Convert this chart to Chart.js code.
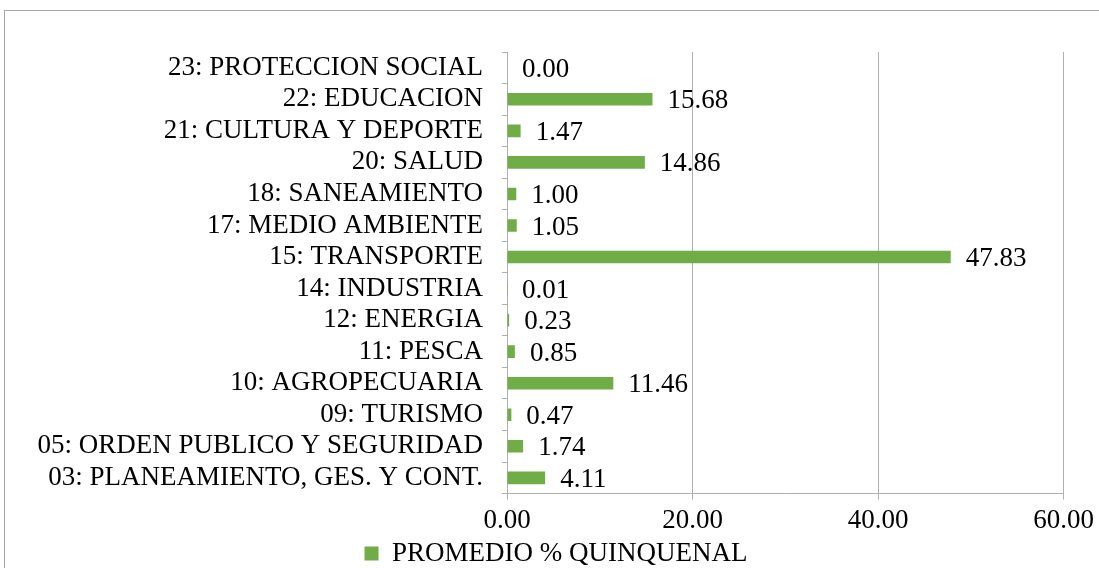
<!DOCTYPE html>
<html>
<head>
<meta charset="utf-8">
<script src="https://cdn.jsdelivr.net/npm/chart.js@4/dist/chart.umd.min.js"></script>
<style>
  html, body { margin: 0; padding: 0; background: #fff; overflow: hidden; }
  #frame { position: absolute; left: 4px; top: 10px; width: 1200px; height: 700px; border: 1px solid #a6a6a6; }
  #wrap { position: absolute; left: 0; top: 0; width: 1099px; height: 568px; }
</style>
</head>
<body>
<div id="frame"></div>
<div id="wrap"><canvas id="chart"></canvas></div>
<script>
// Categories, top to bottom as in the picture
const categories = [
    '23: PROTECCION SOCIAL',
    '22: EDUCACION',
    '21: CULTURA Y DEPORTE',
    '20: SALUD',
    '18: SANEAMIENTO',
    '17: MEDIO AMBIENTE',
    '15: TRANSPORTE',
    '14: INDUSTRIA',
    '12: ENERGIA',
    '11: PESCA',
    '10: AGROPECUARIA',
    '09: TURISMO',
    '05: ORDEN PUBLICO Y SEGURIDAD',
    '03: PLANEAMIENTO, GES. Y CONT.'
];
const promedio = [0.00, 15.68, 1.47, 14.86, 1.00, 1.05, 47.83, 0.01, 0.23, 0.85, 11.46, 0.47, 1.74, 4.11];
const seriesName = 'PROMEDIO % QUINQUENAL';
const xTicks = [0, 20, 40, 60];

const serif = "'Liberation Serif', 'Times New Roman', serif";
const fontSize = 27;

// Value labels to the right of each bar
const valueLabels = {
    id: 'valueLabels',
    afterDatasetsDraw(chart) {
        const ctx = chart.ctx;
        const meta = chart.getDatasetMeta(0);
        ctx.save();
        ctx.font = fontSize + 'px ' + serif;
        ctx.fillStyle = '#000';
        ctx.textAlign = 'left';
        ctx.textBaseline = 'middle';
        meta.data.forEach((bar, i) => {
            ctx.fillText(promedio[i].toFixed(2), bar.x + 15, bar.y + 2);
        });
        ctx.restore();
    }
};

// Legend sits a little right of the canvas centre in the original
const shiftLegend = {
    id: 'shiftLegend',
    afterLayout(chart) {
        chart.legend.left += 14;
        chart.legend.right += 14;
        chart.legend.top -= 2;
        chart.legend.bottom -= 2;
    }
};

new Chart(document.getElementById('chart'), {
    type: 'bar',
    data: {
        labels: categories,
        datasets: [{
            label: seriesName,
            data: promedio,
            backgroundColor: '#70ad47',
            borderWidth: 0,
            barPercentage: 0.4,
            categoryPercentage: 1.0
        }]
    },
    options: {
        indexAxis: 'y',
        responsive: true,
        maintainAspectRatio: false,
        animation: false,
        layout: { padding: { top: 52, right: 35, left: 20, bottom: -11 } },
        plugins: {
            legend: {
                position: 'bottom',
                labels: {
                    color: '#000',
                    font: { family: serif, size: fontSize },
                    boxWidth: 14,
                    boxHeight: 14,
                    padding: 0
                }
            },
            tooltip: { enabled: false }
        },
        scales: {
            x: {
                min: 0,
                max: 60,
                afterBuildTicks: (scale) => { scale.ticks = xTicks.map(v => ({ value: v })); },
                ticks: {
                    color: '#000',
                    font: { family: serif, size: fontSize },
                    padding: 5,
                    maxRotation: 0,
                    callback: (v) => Number(v).toFixed(2)
                },
                grid: { color: '#b0b0b0', tickLength: 6, lineWidth: 1 },
                border: { color: '#b0b0b0' }
            },
            y: {
                afterFit: (scale) => { scale.width = 507 - 20; },
                ticks: {
                    color: '#000',
                    font: { family: serif, size: fontSize },
                    padding: 19,
                    autoSkip: false
                },
                grid: { display: true, drawOnChartArea: false, offset: true, tickLength: 5, color: '#b0b0b0' },
                border: { color: '#b0b0b0' }
            }
        }
    },
    plugins: [valueLabels, shiftLegend]
});
</script>
</body>
</html>
